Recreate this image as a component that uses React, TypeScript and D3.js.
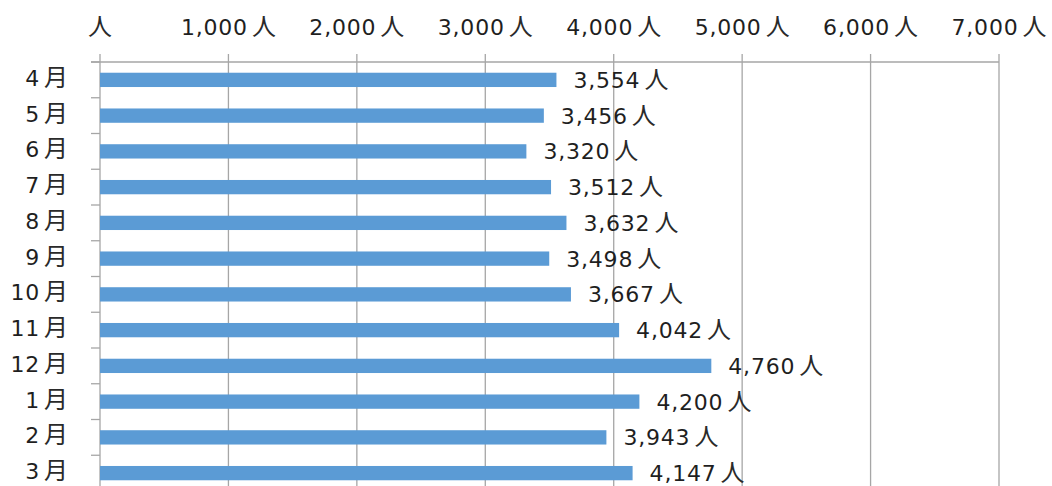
import { useMemo } from 'react';
import * as d3 from 'd3';

const months = ['4', '5', '6', '7', '8', '9', '10', '11', '12', '1', '2', '3'];
const visitors = [3554, 3456, 3320, 3512, 3632, 3498, 3667, 4042, 4760, 4200, 3943, 4147];
const tickValues = [0, 1000, 2000, 3000, 4000, 5000, 6000, 7000];
const MONTH_UNIT = '月';
const PEOPLE_UNIT = '人';

const W = 1052;
const H = 486;
const FONT = '"DejaVu Sans", "Noto Sans CJK JP", sans-serif';
const CJK = '"Noto Sans CJK JP", sans-serif';
const num = (v: number) => (v === 0 ? '' : d3.format(',')(v));

function Label({
  x,
  y,
  main,
  unit,
  anchor = 'start',
  dy = '0.36em',
}: {
  x: number;
  y: number;
  main: string;
  unit: string;
  anchor?: 'start' | 'middle' | 'end';
  dy?: string;
}) {
  return (
    <text x={x} y={y} dy={dy} textAnchor={anchor} fontSize={22} fill="#1f1f1f" letterSpacing={0.8}>
      {main}
      <tspan dx={main ? 4 : 0} fontFamily={CJK} fontSize={24} letterSpacing={0} fill="#2a2a2a">
        {unit}
      </tspan>
    </text>
  );
}

export default function App() {
  const margin = { top: 62, left: 100, right: 53 };
  const step = 35.75;

  const x = useMemo(
    () => d3.scaleLinear().domain([0, 7000]).range([margin.left, W - margin.right]),
    [],
  );
  const y = useMemo(
    () =>
      d3
        .scaleBand<string>()
        .domain(months)
        .range([margin.top, margin.top + step * months.length])
        .paddingInner(0.6)
        .paddingOuter(0.3),
    [],
  );

  const bottom = margin.top + step * months.length;
  const grid = '#A6A6A6';

  return (
    <svg
      width={W}
      height={H}
      style={{ position: 'absolute', left: 0, top: 0, display: 'block', background: '#fff' }}
      fontFamily={FONT}
    >
      {/* vertical gridlines + top ticks */}
      {tickValues.map((t) => (
        <line key={'g' + t} x1={x(t)} x2={x(t)} y1={margin.top - 8} y2={bottom} stroke={grid} strokeWidth={1.3} />
      ))}
      <line x1={margin.left - 9} x2={x(7000)} y1={margin.top} y2={margin.top} stroke={grid} strokeWidth={1.3} />
      {/* left category ticks */}
      {months.map((m, i) => (
        <line
          key={'lt' + m}
          x1={margin.left - 9}
          x2={margin.left}
          y1={margin.top + step * i}
          y2={margin.top + step * i}
          stroke={grid}
          strokeWidth={1.3}
        />
      ))}
      {/* top tick labels */}
      {tickValues.map((t) => (
        <Label key={'tl' + t} x={x(t)} y={27} main={num(t)} unit={PEOPLE_UNIT} anchor="middle" />
      ))}
      {/* bars */}
      {months.map((m, i) => (
        <rect
          key={'b' + m}
          x={x(0)}
          y={y(m)}
          width={x(visitors[i]) - x(0)}
          height={y.bandwidth()}
          fill="#5B9BD5"
        />
      ))}
      {/* value labels */}
      {months.map((m, i) => (
        <Label
          key={'v' + m}
          x={x(visitors[i]) + 17}
          y={(y(m) ?? 0) + y.bandwidth() / 2}
          main={num(visitors[i])}
          unit={PEOPLE_UNIT}
        />
      ))}
      {/* category labels */}
      {months.map((m) => (
        <Label
          key={'c' + m}
          x={68}
          y={(y(m) ?? 0) + y.bandwidth() / 2 - 2}
          main={m}
          unit={MONTH_UNIT}
          anchor="end"
        />
      ))}
    </svg>
  );
}
